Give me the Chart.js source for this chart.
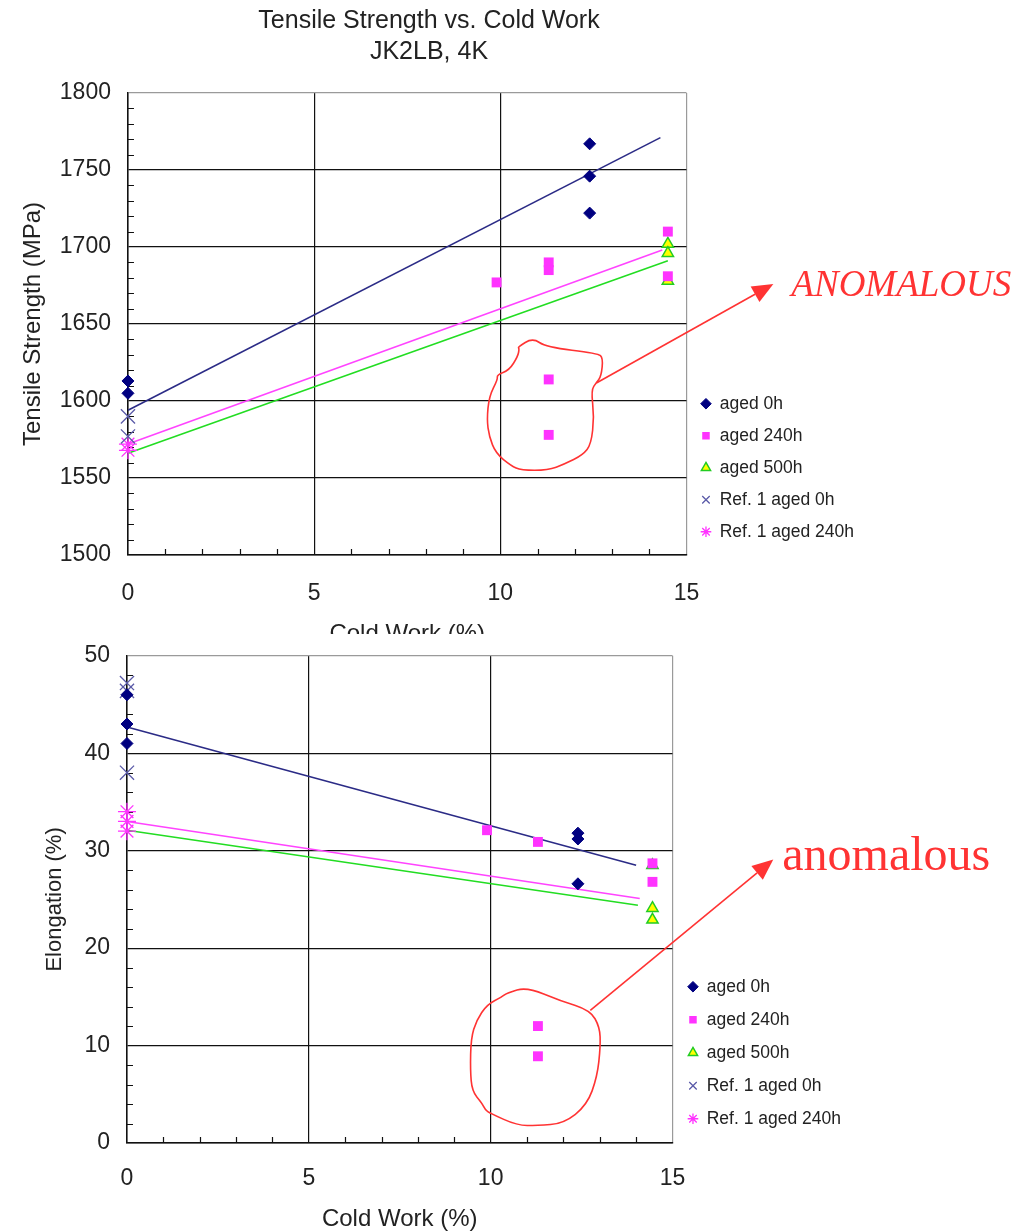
<!DOCTYPE html>
<html>
<head>
<meta charset="utf-8">
<script src="https://cdn.jsdelivr.net/npm/chart.js@4.4.1/dist/chart.umd.min.js"></script>
<style>
  body { margin: 0; background: #fff; width: 1024px; height: 1232px; overflow: hidden; position: relative; }
  #top { position: absolute; left: 0; top: 0; width: 1024px; height: 634px; overflow: hidden; }
  #bot { position: absolute; left: 0; top: 625px; width: 1024px; height: 609px; }
  canvas { display: block; }
</style>
</head>
<body>
<div id="top"><canvas id="tsChart" width="1024" height="660"></canvas></div>
<div id="bot"><canvas id="elChart" width="1024" height="609"></canvas></div>
<script>
// ---- tensile strength (MPa) vs cold work (%)
const tsAged0X = [0, 0, 12.4, 12.4, 12.4];
const tsAged0Y = [1613, 1605, 1767, 1746, 1722];
const tsAged240X = [9.9, 11.3, 11.3, 11.3, 11.3, 14.5, 14.5];
const tsAged240Y = [1677, 1690, 1685, 1614, 1578, 1710, 1681];
const tsAged500X = [14.5, 14.5, 14.5];
const tsAged500Y = [1702, 1696, 1678];
const tsRef0X = [0, 0];
const tsRef0Y = [1590, 1577];
const tsRef240X = [0, 0];
const tsRef240Y = [1572, 1568];
const tsFit0X = [0, 14.3];
const tsFit0Y = [1594, 1771];
const tsFit240X = [0, 14.35];
const tsFit240Y = [1572, 1698];
const tsFit500X = [0, 14.5];
const tsFit500Y = [1566, 1691];

// ---- elongation (%) vs cold work (%)
const elAged0X = [0, 0, 0, 12.4, 12.4, 12.4];
const elAged0Y = [46, 43, 41, 31.8, 31.2, 26.6];
const elAged240X = [9.9, 11.3, 11.3, 11.3, 14.45, 14.45];
const elAged240Y = [32.1, 30.9, 12, 8.9, 28.7, 26.8];
const elAged500X = [14.45, 14.45, 14.45];
const elAged500Y = [28.5, 24.1, 22.9];
const elRef0X = [0, 0, 0];
const elRef0Y = [47.2, 46.4, 38];
const elRef240X = [0, 0, 0];
const elRef240Y = [34, 33, 32];
const elFit0X = [0, 14];
const elFit0Y = [42.7, 28.5];
const elFit240X = [0, 14.1];
const elFit240Y = [33.0, 25.1];
const elFit500X = [0, 14.05];
const elFit500Y = [32.1, 24.4];

const legendLabels = ['aged 0h', 'aged 240h', 'aged 500h', 'Ref. 1 aged 0h', 'Ref. 1 aged 240h'];
const tsTitle = ['Tensile Strength vs. Cold Work', 'JK2LB, 4K'];

// hand drawn annotation (data units)
const tsLoop = [[10.87, 1641], [11.23, 1635], [12.62, 1631], [12.76, 1628], [12.71, 1616], [12.58, 1612],
  [12.44, 1607], [12.52, 1590], [12.44, 1572], [12.22, 1565], [11.72, 1559], [11.28, 1555], [10.56, 1555],
  [10.29, 1558], [9.88, 1566], [9.70, 1577], [9.64, 1588], [9.70, 1603], [9.93, 1614], [9.91, 1617],
  [10.24, 1620], [10.47, 1629], [10.51, 1634], [10.47, 1635]];
const elLoop = [[11.0, 16.0], [11.92, 14.6], [12.74, 13.6], [13.0, 11.9], [13.02, 9.9], [12.93, 6.8],
  [12.65, 3.9], [12.01, 2.0], [11.28, 1.8], [10.73, 1.8], [9.99, 3.05], [9.85, 3.4], [9.76, 4.1],
  [9.49, 5.3], [9.44, 7.5], [9.46, 10.75], [9.61, 12.6], [9.9, 14.2], [10.31, 15.0], [10.45, 15.4]];

const FONT = '"Liberation Sans", Arial, sans-serif';
const NAVY = '#000080';
const PINK = '#ff33ff';
const SLATE = '#5a5aa8';
const RED = '#ff3333';
const INK = '#222';

function pts(xs, ys) {
  return xs.map((x, i) => ({ x: x, y: ys[i] }));
}

function buildSets(s) {
  return [
    { label: legendLabels[0], data: pts(s.a0x, s.a0y), pointStyle: 'rectRot', pointRadius: 6,
      backgroundColor: NAVY, borderColor: NAVY, borderWidth: 1, clip: false },
    { label: legendLabels[1], data: pts(s.a240x, s.a240y), pointStyle: 'rect', pointRadius: 7,
      backgroundColor: PINK, borderColor: PINK, borderWidth: 0, clip: false },
    { label: legendLabels[2], data: pts(s.a500x, s.a500y), pointStyle: 'triangle', pointRadius: 6.5,
      backgroundColor: '#ffff00', borderColor: '#22cc22', borderWidth: 1.5, clip: false },
    { label: legendLabels[3], data: pts(s.r0x, s.r0y), pointStyle: 'crossRot', pointRadius: 10,
      backgroundColor: SLATE, borderColor: SLATE, borderWidth: 1.3, clip: false },
    { label: legendLabels[4], data: pts(s.r240x, s.r240y), pointStyle: 'star', pointRadius: 9,
      backgroundColor: PINK, borderColor: PINK, borderWidth: 1.3, clip: false },
    { label: 'fit 0h', data: pts(s.f0x, s.f0y), showLine: true, pointRadius: 0,
      borderColor: '#2b2b86', borderWidth: 1.6 },
    { label: 'fit 240h', data: pts(s.f240x, s.f240y), showLine: true, pointRadius: 0,
      borderColor: '#ff44ff', borderWidth: 1.6 },
    { label: 'fit 500h', data: pts(s.f500x, s.f500y), showLine: true, pointRadius: 0,
      borderColor: '#22dd22', borderWidth: 1.6 }
  ];
}

// inward minor tick marks on both axes
const minorTicks = {
  id: 'minorTicks',
  beforeDatasetsDraw(chart, args, o) {
    const { ctx, scales: { x, y } } = chart;
    ctx.save();
    ctx.strokeStyle = '#111';
    ctx.lineWidth = 1.2;
    ctx.beginPath();
    const nx = Math.round((x.max - x.min) / o.xStep);
    for (let i = 1; i < nx; i++) {
      if (i % o.xEvery === 0) continue;
      const px = Math.round(x.getPixelForValue(x.min + i * o.xStep)) + 0.5;
      ctx.moveTo(px, y.bottom);
      ctx.lineTo(px, y.bottom - 6);
    }
    const ny = Math.round((y.max - y.min) / o.yStep);
    for (let i = 1; i < ny; i++) {
      if (i % o.yEvery === 0) continue;
      const py = Math.round(y.getPixelForValue(y.min + i * o.yStep)) + 0.5;
      ctx.moveTo(x.left, py);
      ctx.lineTo(x.left + 6, py);
    }
    ctx.stroke();
    ctx.restore();
  }
};

// centred heading lines
const heading = {
  id: 'heading',
  afterDraw(chart, args, o) {
    if (!o.lines) return;
    const ctx = chart.ctx;
    ctx.save();
    ctx.fillStyle = INK;
    ctx.font = '25px ' + FONT;
    ctx.textAlign = 'center';
    ctx.textBaseline = 'middle';
    o.lines.forEach((t, i) => ctx.fillText(t, o.x, o.y + i * o.gap));
    ctx.restore();
  }
};

// red loop + arrow + note
const anomaly = {
  id: 'anomaly',
  afterDraw(chart, args, o) {
    const { ctx, scales: { x, y } } = chart;
    const px = p => [x.getPixelForValue(p[0]), y.getPixelForValue(p[1])];
    ctx.save();
    ctx.strokeStyle = RED;
    ctx.fillStyle = RED;
    ctx.lineWidth = 1.6;
    ctx.lineJoin = 'round';
    const P = o.loop.map(px);
    const n = P.length;
    const mid = (a, b) => [(a[0] + b[0]) / 2, (a[1] + b[1]) / 2];
    ctx.beginPath();
    const m = mid(P[n - 1], P[0]);
    ctx.moveTo(m[0], m[1]);
    for (let i = 0; i < n; i++) {
      const nx = mid(P[i], P[(i + 1) % n]);
      ctx.quadraticCurveTo(P[i][0], P[i][1], nx[0], nx[1]);
    }
    ctx.closePath();
    ctx.stroke();

    const [x0, y0] = px(o.from);
    const [x1, y1] = [x0 + o.dx, y0 + o.dy];
    const len = Math.hypot(x1 - x0, y1 - y0);
    const ux = (x1 - x0) / len, uy = (y1 - y0) / len;
    const hl = 21, hw = 9;
    ctx.beginPath();
    ctx.moveTo(x0, y0);
    ctx.lineTo(x1 - ux * hl, y1 - uy * hl);
    ctx.stroke();
    ctx.beginPath();
    ctx.moveTo(x1, y1);
    ctx.lineTo(x1 - ux * hl - uy * hw, y1 - uy * hl + ux * hw);
    ctx.lineTo(x1 - ux * hl + uy * hw, y1 - uy * hl - ux * hw);
    ctx.closePath();
    ctx.fill();

    ctx.font = o.font;
    ctx.textBaseline = 'alphabetic';
    ctx.textAlign = 'left';
    ctx.fillText(o.text, x1 + o.tx, y1 + o.ty);
    ctx.restore();
  }
};

function axisFont(size) {
  return { family: FONT, size: size };
}

function scatterOptions(c) {
  return {
    responsive: false,
    animation: false,
    layout: { padding: c.padding },
    plugins: {
      title: { display: false },
      legend: {
        position: 'right', align: 'end', fullSize: false,
        labels: {
          usePointStyle: true, boxWidth: 10, boxHeight: 7.5, padding: c.legendGap, color: INK,
          font: axisFont(17.5),
          filter: item => item.datasetIndex < 5
        }
      },
      tooltip: { enabled: false },
      heading: c.heading,
      minorTicks: c.minor,
      anomaly: c.note
    },
    scales: {
      x: {
        type: 'linear', min: 0, max: 15,
        ticks: { stepSize: 5, padding: c.xPad, color: INK, font: axisFont(23), callback: v => v },
        grid: { color: t => (t.tick.value === 15 ? '#9a9a9a' : '#111'), lineWidth: 1.2, drawTicks: false },
        border: { color: '#111', width: 1.5 },
        title: { display: true, text: 'Cold Work (%)', color: INK, font: axisFont(24), padding: { top: c.xtPad, bottom: 0 } }
      },
      y: {
        type: 'linear', min: c.yMin, max: c.yMax,
        ticks: { stepSize: c.yStep, padding: 17, color: INK, font: axisFont(23), callback: v => v },
        grid: { color: t => (t.tick.value === c.yMax ? '#9a9a9a' : '#111'), lineWidth: 1.2, drawTicks: false },
        border: { color: '#111', width: 1.5 },
        title: { display: true, text: c.yTitle, color: INK, font: axisFont(c.ytSize), padding: { top: 0, bottom: c.ytPad } }
      }
    }
  };
}

new Chart(document.getElementById('tsChart'), {
  type: 'scatter',
  data: {
    datasets: buildSets({
      a0x: tsAged0X, a0y: tsAged0Y, a240x: tsAged240X, a240y: tsAged240Y, a500x: tsAged500X, a500y: tsAged500Y,
      r0x: tsRef0X, r0y: tsRef0Y, r240x: tsRef240X, r240y: tsRef240Y,
      f0x: tsFit0X, f0y: tsFit0Y, f240x: tsFit240X, f240y: tsFit240Y, f500x: tsFit500X, f500y: tsFit500Y
    })
  },
  options: scatterOptions({
    heading: { lines: tsTitle, x: 429, y: 21, gap: 31 },
    padding: { left: 19, right: 160, top: 93, bottom: 11.6 },
    yMin: 1500, yMax: 1800, yStep: 50, yTitle: 'Tensile Strength (MPa)', ytSize: 24, ytPad: -5,
    xPad: 25, xtPad: -13, legendGap: 14.5,
    minor: { xStep: 1, xEvery: 5, yStep: 10, yEvery: 5 },
    note: { loop: tsLoop, from: [12.58, 1611.7], dx: 177, dy: -99, text: 'ANOMALOUS',
      font: 'italic 37px "Liberation Serif", "Times New Roman", serif', tx: 18, ty: 12 }
  }),
  plugins: [minorTicks, heading, anomaly]
});

new Chart(document.getElementById('elChart'), {
  type: 'scatter',
  data: {
    datasets: buildSets({
      a0x: elAged0X, a0y: elAged0Y, a240x: elAged240X, a240y: elAged240Y, a500x: elAged500X, a500y: elAged500Y,
      r0x: elRef0X, r0y: elRef0Y, r240x: elRef240X, r240y: elRef240Y,
      f0x: elFit0X, f0y: elFit0Y, f240x: elFit240X, f240y: elFit240Y, f500x: elFit500X, f500y: elFit500Y
    })
  },
  options: scatterOptions({
    heading: {},
    padding: { left: 42, right: 173, top: 0, bottom: 0 },
    yMin: 0, yMax: 50, yStep: 10, yTitle: 'Elongation (%)', ytSize: 22, ytPad: -1,
    xPad: 22, xtPad: -9.4, legendGap: 15.5,
    minor: { xStep: 1, xEvery: 5, yStep: 2, yEvery: 5 },
    note: { loop: elLoop, from: [12.74, 13.6], dx: 183, dy: -151, text: 'anomalous',
      font: '48px "Liberation Serif", "Times New Roman", serif', tx: 9, ty: 11 }
  }),
  plugins: [minorTicks, heading, anomaly]
});
</script>
</body>
</html>
